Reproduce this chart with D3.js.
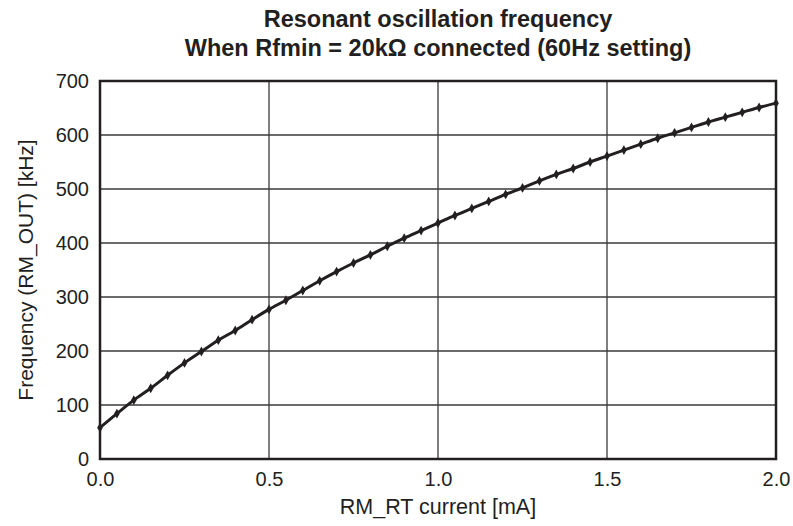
<!DOCTYPE html>
<html><head><meta charset="utf-8">
<script src="https://cdn.jsdelivr.net/npm/d3@7"></script>
<style>body{margin:0;background:#fff}svg{display:block}</style>
</head><body>
<script>
const currents = [0,0.05,0.1,0.15,0.2,0.25,0.3,0.35,0.4,0.45,0.5,0.55,0.6,0.65,0.7,0.75,0.8,0.85,0.9,0.95,1.0,1.05,1.1,1.15,1.2,1.25,1.3,1.35,1.4,1.45,1.5,1.55,1.6,1.65,1.7,1.75,1.8,1.85,1.9,1.95,2.0];
const freqs = [58,84,109,131,155,178,199,220,238,258,277,294,312,330,347,363,378,394,409,423,437,451,464,477,490,502,515,527,538,550,561,572,583,594,604,614,624,633,642,651,659];
const xTicks = [0,0.5,1.0,1.5,2.0];
const yTicks = [0,100,200,300,400,500,600,700];
const titleLines = ["Resonant oscillation frequency", "When Rfmin = 20k\u03A9 connected (60Hz setting)"];
const xLabel = "RM_RT current [mA]";
const yLabel = "Frequency (RM_OUT) [kHz]";

const W=793,H=526, L=100,R=776,T=81,B=459;
const svg=d3.select("body").append("svg").attr("width",W).attr("height",H);
const x=d3.scaleLinear().domain([0,2]).range([L,R]);
const y=d3.scaleLinear().domain([0,700]).range([B,T]);
const font="Arial, 'Liberation Sans', Helvetica, sans-serif";
const ink="#231f20";

// grid
const g=svg.append("g");
g.selectAll(".gx").data(xTicks.slice(1,-1)).join("line")
 .attr("x1",d=>x(d)).attr("x2",d=>x(d)).attr("y1",T).attr("y2",B)
 .attr("stroke","#3a3a3a").attr("stroke-width",1.3);
g.selectAll(".gy").data(yTicks.slice(1,-1)).join("line")
 .attr("y1",d=>y(d)).attr("y2",d=>y(d)).attr("x1",L).attr("x2",R)
 .attr("stroke","#3a3a3a").attr("stroke-width",1.3);

// axes (labels only)
const xa=svg.append("g").attr("transform",`translate(0,${B})`)
 .call(d3.axisBottom(x).tickValues(xTicks).tickFormat(d3.format(".1f")).tickSize(0).tickPadding(13));
const ya=svg.append("g").attr("transform",`translate(${L},0)`)
 .call(d3.axisLeft(y).tickValues(yTicks).tickFormat(d3.format("d")).tickSize(0).tickPadding(11));
[xa,ya].forEach(a=>{a.select(".domain").remove();
 a.selectAll("text").attr("font-family",font).attr("font-size",20).attr("fill",ink);});

// border
svg.append("rect").attr("x",L).attr("y",T).attr("width",R-L).attr("height",B-T)
 .attr("fill","none").attr("stroke",ink).attr("stroke-width",2.5);

// line
const pts=currents.map((c,i)=>[c,freqs[i]]);
svg.append("path").datum(pts)
 .attr("d",d3.line().x(d=>x(d[0])).y(d=>y(d[1])).curve(d3.curveMonotoneX))
 .attr("fill","none").attr("stroke",ink).attr("stroke-width",3);
svg.selectAll(".m").data(pts).join("path")
 .attr("transform",d=>`translate(${x(d[0])},${y(d[1])})`)
 .attr("d",d3.symbol(d3.symbolDiamond,28)).attr("fill",ink);

// titles
svg.selectAll(".t").data(titleLines).join("text")
 .attr("x",(L+R)/2).attr("y",(d,i)=>27+i*28.5).attr("text-anchor","middle")
 .attr("font-family",font).attr("font-weight","bold").attr("font-size",23.5).attr("fill",ink)
 .text(d=>d);
svg.append("text").attr("x",(L+R)/2).attr("y",514).attr("text-anchor","middle")
 .attr("font-family",font).attr("font-size",21.5).attr("fill",ink).text(xLabel);
svg.append("text").attr("transform",`translate(33,${(T+B)/2}) rotate(-90)`).attr("text-anchor","middle")
 .attr("font-family",font).attr("font-size",21).attr("fill",ink).text(yLabel);
</script>
</body></html>
